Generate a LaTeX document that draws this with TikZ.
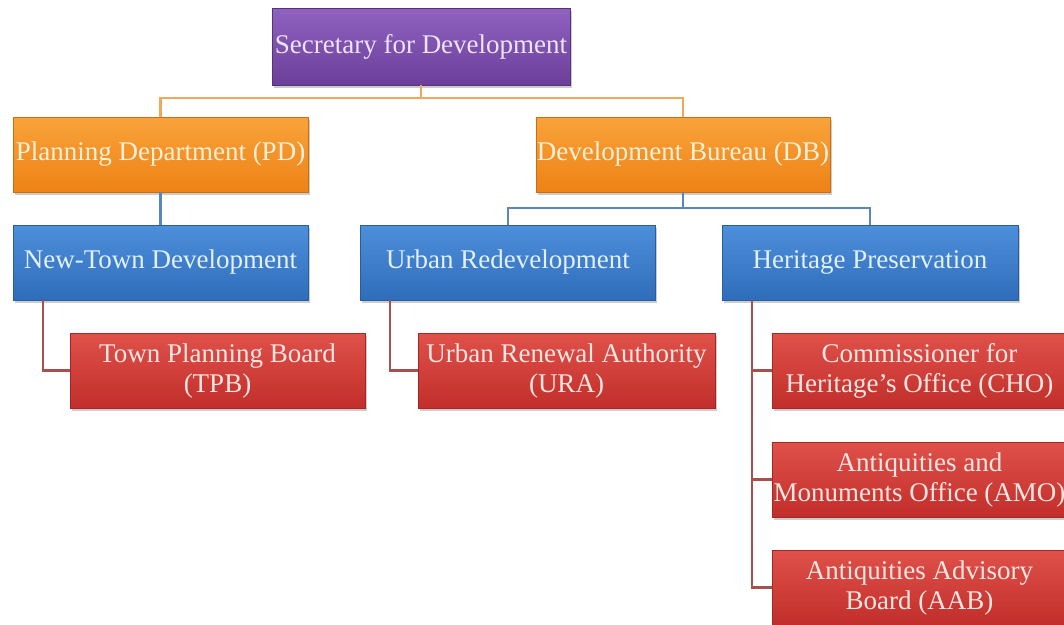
\documentclass[tikz,border=0pt]{standalone}
\usepackage{fontspec}
\setmainfont{Liberation Serif}
\usetikzlibrary{shadows}
\definecolor{purpT}{HTML}{8E62BE}
\definecolor{purpB}{HTML}{6B3F9A}
\definecolor{purpTx}{HTML}{EEE4FA}
\definecolor{oranT}{HTML}{F9A33A}
\definecolor{oranB}{HTML}{EE8216}
\definecolor{oranTx}{HTML}{FDF0D8}
\definecolor{blueT}{HTML}{4D8FDB}
\definecolor{blueB}{HTML}{2F6DBA}
\definecolor{blueTx}{HTML}{E2F0FF}
\definecolor{redT}{HTML}{E0514A}
\definecolor{redB}{HTML}{C12E2B}
\definecolor{redTx}{HTML}{FCE6E2}
\definecolor{olin}{HTML}{F2A85A}
\definecolor{blin}{HTML}{5A86B8}
\definecolor{rlin}{HTML}{A8504E}
\tikzset{
  box/.style={rectangle, minimum height=75pt, inner sep=0pt, align=center,
    font=\fontsize{27}{30}\selectfont, drop shadow={shadow xshift=1.5pt, shadow yshift=-3pt, opacity=0.4}},
  pbox/.style={box, top color=purpT, bottom color=purpB, text=purpTx, draw=purpB!80!black, line width=0.4pt},
  obox/.style={box, top color=oranT, bottom color=oranB, text=oranTx, draw=oranB!85!black, line width=0.4pt},
  bbox/.style={box, top color=blueT, bottom color=blueB, text=blueTx, draw=blueB!85!black, line width=0.4pt},
  rbox/.style={box, top color=redT, bottom color=redB, text=redTx, draw=redB!85!black, line width=0.4pt},
  oline/.style={draw=olin, line width=2.2pt},
  bline/.style={draw=blin, line width=2.2pt},
  rline/.style={draw=rlin, line width=2.2pt},
}
\begin{document}
\begin{tikzpicture}[x=1pt,y=-1pt]
\useasboundingbox (0,0) rectangle (1064,624);
\clip (0,0) rectangle (1064,624);
\fill[white] (0,0) rectangle (1064,624);
\coordinate (b1) at (421,98);
\coordinate (b2) at (683,208);
\coordinate (t1) at (43,370.5);
\coordinate (u1) at (390,370.5);
\coordinate (h1) at (752,370.5);
\coordinate (h2) at (752,479.5);
\coordinate (h3) at (752,587.5);
\node[pbox, minimum width=298pt, minimum height=77pt] (sec) at (421,46.5) {Secretary for Development};
\node[obox, minimum width=295pt] (pd) at (160.5,154.5) {Planning Department (PD)};
\node[obox, minimum width=294pt] (db) at (683,154.5) {Development Bureau (DB)};
\node[bbox, minimum width=295pt] (ntd) at (160.5,262.5) {New-Town Development};
\node[bbox, minimum width=295pt] (ur) at (508,262.5) {Urban Redevelopment};
\node[bbox, minimum width=296pt] (hp) at (870,262.5) {Heritage Preservation};
\node[rbox, minimum width=295pt] (tpb) at (217.5,370.5) {Town Planning Board\\(TPB)};
\node[rbox, minimum width=297pt] (ura) at (566.5,370.5) {Urban Renewal Authority\\(URA)};
\node[rbox, minimum width=295pt] (cho) at (919.5,370.5) {Commissioner for\\Heritage's Office (CHO)};
\node[rbox, minimum width=295pt] (amo) at (919.5,479.5) {Antiquities and\\Monuments Office (AMO)};
\node[rbox, minimum width=295pt] (aab) at (919.5,587.5) {Antiquities Advisory\\Board (AAB)};
\draw[oline] (sec.south) -- (b1) -| (pd.north);
\draw[oline] (b1) -| (db.north);
\draw[bline] (pd.south) -- (ntd.north);
\draw[bline] (db.south) -- (b2) -| (ur.north);
\draw[bline] (b2) -| (hp.north);
\draw[rline] (t1 |- ntd.south) -- (t1) -- (tpb.west);
\draw[rline] (u1 |- ur.south) -- (u1) -- (ura.west);
\draw[rline] (h1 |- hp.south) -- (h3) -- (aab.west);
\draw[rline] (h1) -- (cho.west);
\draw[rline] (h2) -- (amo.west);
\end{tikzpicture}
\end{document}
